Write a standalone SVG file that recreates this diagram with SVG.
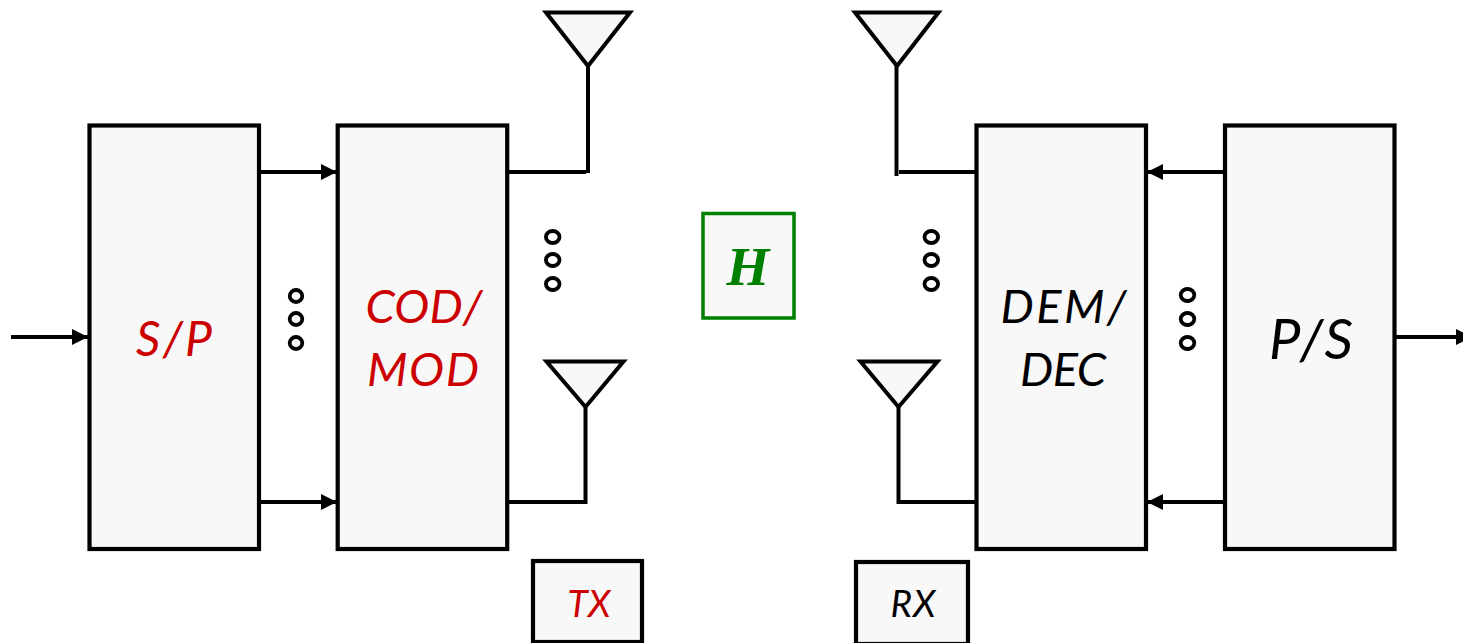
<svg xmlns="http://www.w3.org/2000/svg" width="1463" height="643" viewBox="0 0 1463 643">
<style>
.box{fill:#f8f8f8;stroke:#000;stroke-width:4.200}
.ant{fill:#f8f8f8;stroke:#000;stroke-width:4;stroke-linejoin:miter}
.wire{fill:none;stroke:#000;stroke-width:4}
.arrow{fill:none;stroke:#000;stroke-width:4;marker-end:url(#head)}
.dot{fill:#fff;stroke:#000;stroke-width:3.800}
.lab{font-family:Lato,"Open Sans",sans-serif;font-style:italic;text-anchor:middle}
.red{fill:#cc0000}
.blk{fill:#000}
</style>
<defs>
<marker id="head" markerUnits="userSpaceOnUse" markerWidth="17" markerHeight="18" refX="16" refY="8" orient="auto"><path d="M0 0L16 8L0 16Z" fill="#000"/></marker>
</defs>
<g id="connectors">
<path class="arrow" d="M11 337H88"/>
<path class="arrow" d="M260 172H337"/>
<path class="arrow" d="M260 502H337"/>
<path class="arrow" d="M1225 172H1147"/>
<path class="arrow" d="M1225 502H1147"/>
<path class="arrow" d="M1395 337H1472"/>
<path class="wire" d="M507 172H586"/>
<path class="wire" d="M588 66V173"/>
<path class="wire" d="M507 502H587.500M585.500 407V504"/>
<path class="wire" d="M899 172H977"/>
<path class="wire" d="M896.500 66V176"/>
<path class="wire" d="M977 502H896.500M898.500 407V504"/>
</g>
<g id="sp"><rect class="box" x="89.500" y="125.500" width="169.500" height="423.500"/><text class="lab red" x="174" y="356" font-size="48" textLength="76">S/P</text></g>
<g id="codmod"><rect class="box" x="337.700" y="125.500" width="169.500" height="423.500"/><text class="lab red" x="424" y="323" font-size="47" textLength="117">COD/</text><text class="lab red" x="423" y="386" font-size="47" textLength="112">MOD</text></g>
<g id="demdec"><rect class="box" x="976.500" y="125.500" width="169.500" height="423.500"/><text class="lab blk" x="1063.500" y="323" font-size="47" textLength="126">DEM/</text><text class="lab blk" x="1063" y="386" font-size="47" textLength="86">DEC</text></g>
<g id="ps"><rect class="box" x="1225" y="125.500" width="169.500" height="423.500"/><text class="lab blk" x="1311" y="359" font-size="56" textLength="84">P/S</text></g>
<g id="ant-tx1"><path class="ant" d="M546 12.500H630L588 66Z"/></g>
<g id="ant-rx1"><path class="ant" d="M855 12.500H938.500L897 66Z"/></g>
<g id="ant-tx2"><path class="ant" d="M546.500 361.500H623.500L585.500 407Z"/></g>
<g id="ant-rx2"><path class="ant" d="M860.500 361.500H937.500L898.500 407Z"/></g>
<g id="channel"><rect x="703" y="213.500" width="91" height="104.500" fill="#f8f8f8" stroke="#008000" stroke-width="3.500"/><text x="748" y="285" font-family="Liberation Serif,serif" font-weight="bold" font-style="italic" font-size="55" fill="#008000" text-anchor="middle">H</text></g>
<g id="tx"><rect class="box" x="533" y="561" width="109" height="81"/><text class="lab red" x="589" y="617" font-size="37" textLength="43">TX</text></g>
<g id="rx"><rect class="box" x="856" y="562" width="112" height="82"/><text class="lab blk" x="913" y="617" font-size="37" textLength="45">RX</text></g>
<g id="dots-1"><ellipse class="dot" cx="296" cy="296" rx="6.300" ry="6"/><ellipse class="dot" cx="296" cy="319" rx="6.300" ry="6"/><ellipse class="dot" cx="296" cy="343" rx="6.300" ry="6"/></g>
<g id="dots-2"><ellipse class="dot" cx="552.700" cy="237" rx="6.800" ry="6"/><ellipse class="dot" cx="552.700" cy="260" rx="6.800" ry="6"/><ellipse class="dot" cx="552.700" cy="284" rx="6.800" ry="6"/></g>
<g id="dots-3"><ellipse class="dot" cx="931.300" cy="237" rx="6.800" ry="6"/><ellipse class="dot" cx="931.300" cy="260" rx="6.800" ry="6"/><ellipse class="dot" cx="931.300" cy="284" rx="6.800" ry="6"/></g>
<g id="dots-4"><ellipse class="dot" cx="1187.500" cy="295" rx="6.800" ry="6"/><ellipse class="dot" cx="1187.500" cy="319" rx="6.800" ry="6"/><ellipse class="dot" cx="1187.500" cy="343" rx="6.800" ry="6"/></g>
</svg>
